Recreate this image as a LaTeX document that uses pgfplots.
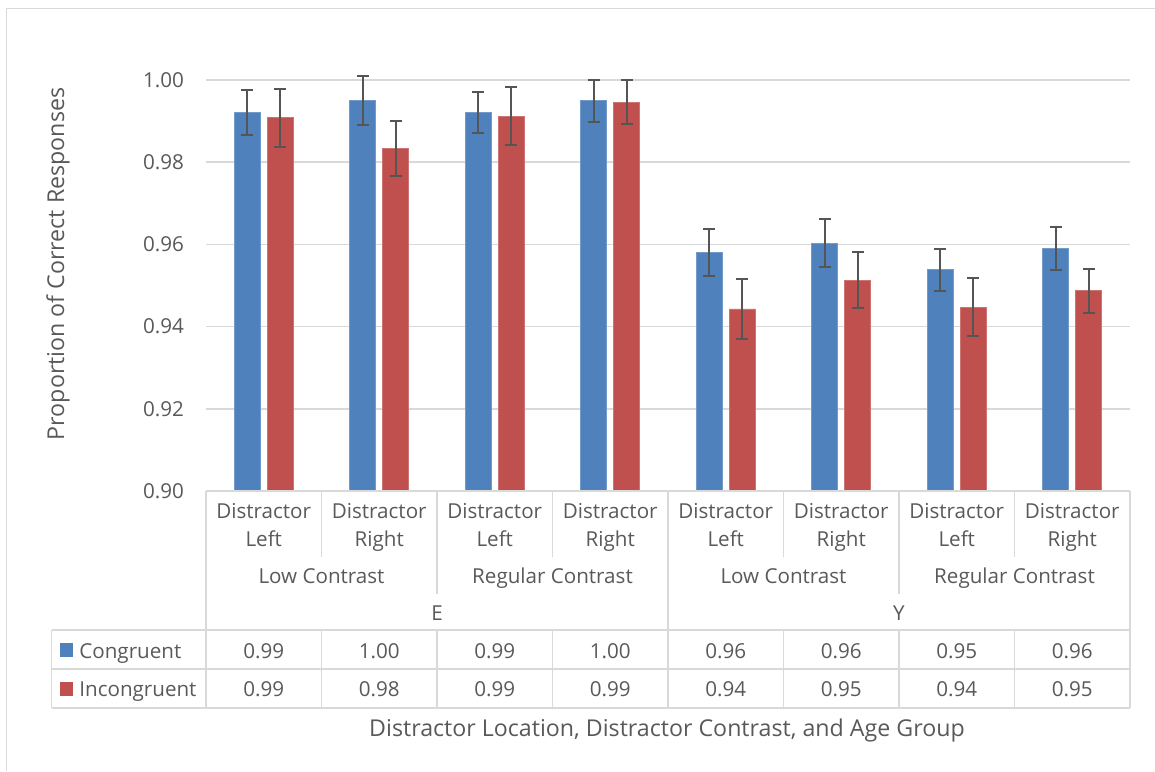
\documentclass[border=0pt]{standalone}
\usepackage{pgfplots}
\pgfplotsset{compat=1.18}
\usepackage{pgfplotstable}
\usepackage{fontspec}
\setmainfont{Open Sans}
\definecolor{cblue}{HTML}{4F81BD}
\definecolor{cred}{HTML}{C0504D}
\definecolor{tgray}{HTML}{595959}
\definecolor{lgray}{HTML}{D9D9D9}
\definecolor{egray}{HTML}{555555}

\pgfplotstableread{
x y e
0 0.9921 0.0055
1 0.9950 0.0059
2 0.9921 0.0050
3 0.9950 0.0051
4 0.9581 0.0057
5 0.9603 0.0059
6 0.9538 0.0051
7 0.9590 0.0053
}\congr
\pgfplotstableread{
x y e
0 0.9908 0.0070
1 0.9833 0.0067
2 0.9912 0.0070
3 0.9946 0.0053
4 0.9443 0.0072
5 0.9513 0.0068
6 0.9447 0.0071
7 0.9487 0.0054
}\incongr

\begin{document}
\begin{tikzpicture}[font=\fontsize{10.3}{12}\selectfont, text=tgray]
\path[use as bounding box] (0pt,0pt) rectangle (577.5pt,-385.5pt);
\begin{axis}[
  at={(103pt,-245.5pt)}, anchor=south west,
  scale only axis, width=462pt, height=205.5pt,
  xmin=-0.5, xmax=7.5, ymin=0.90, ymax=1.00,
  clip=false,
  axis line style={draw=none},
  xtick=\empty,
  ytick={0.90,0.92,0.94,0.96,0.98,1.00},
  major tick length=0pt,
  ymajorgrids, grid style={lgray, line width=0.75pt},
  yticklabel style={xshift=-7.5pt, text=tgray,
    /pgf/number format/.cd, fixed, fixed zerofill, precision=2, assume math mode=true},
  ybar=3.5pt, bar width=13pt,
]
\addplot[fill=cblue, draw=cblue!80!white, line width=0.4pt,
  error bars/.cd, y dir=both, y explicit,
  error bar style={egray, line width=1pt},
  error mark options={rotate=90, mark size=3pt, line width=1pt, egray}]
  table[x=x, y=y, y error=e]{\congr};
\addplot[fill=cred, draw=cred!80!white, line width=0.4pt,
  error bars/.cd, y dir=both, y explicit,
  error bar style={egray, line width=1pt},
  error mark options={rotate=90, mark size=3pt, line width=1pt, egray}]
  table[x=x, y=y, y error=e]{\incongr};
\end{axis}
\begin{scope}[x=0.5pt, y=-0.5pt, every node/.style={inner sep=0pt, anchor=base, text=tgray}]
  % outer chart border
  \draw[lgray, line width=0.75pt] (6.5,771) -- (6.5,8.5) -- (1155,8.5);
  % category table
  \draw[lgray, line width=0.75pt] (206,491) -- (1130,491);
  \draw[lgray, line width=0.75pt] (206,491) -- (206,708);
  \draw[lgray, line width=0.75pt] (1130,491) -- (1130,708);
  \foreach \xx in {321.5,552.5,783.5,1014.5} {
    \draw[lgray, line width=0.75pt] (\xx,491) -- (\xx,557);
    \draw[lgray, line width=0.75pt] (\xx,630) -- (\xx,708);
  }
  \foreach \xx in {437,899} {
    \draw[lgray, line width=0.75pt] (\xx,491) -- (\xx,594);
    \draw[lgray, line width=0.75pt] (\xx,630) -- (\xx,708);
  }
  \draw[lgray, line width=0.75pt] (668,491) -- (668,708);
  \foreach \yy in {630,669,708}
    \draw[lgray, line width=0.75pt] (51.5,\yy) -- (1130,\yy);
  \draw[lgray, line width=0.75pt] (51.5,630) -- (51.5,708);
  % level 1 labels
  \foreach \xx/\lab in {263.75/Left,379.25/Right,494.75/Left,610.25/Right,725.75/Left,841.25/Right,956.75/Left,1072.25/Right} {
    \node at (\xx,518) {Distractor};
    \node at (\xx,546.5) {\lab};
  }
  % level 2
  \foreach \xx/\lab in {321.5/Low Contrast,552.5/Regular Contrast,783.5/Low Contrast,1014.5/Regular Contrast}
    \node at (\xx,583.3) {\lab};
  % level 3
  \node at (437,620) {E};
  \node at (899,620) {Y};
  % data table
  \fill[cblue] (60,643.3) rectangle (73.3,656.7);
  \fill[cred] (60,682.3) rectangle (73.3,695.7);
  \node[anchor=base west] at (79,658.3) {Congruent};
  \node[anchor=base west] at (79,696.7) {Incongruent};
  \foreach \xx/\v in {263.75/0.99,379.25/1.00,494.75/0.99,610.25/1.00,725.75/0.96,841.25/0.96,956.75/0.95,1072.25/0.96}
    \node at (\xx,658.3) {\v};
  \foreach \xx/\v in {263.75/0.99,379.25/0.98,494.75/0.99,610.25/0.99,725.75/0.94,841.25/0.95,956.75/0.94,1072.25/0.95}
    \node at (\xx,696.7) {\v};
  % axis titles
  \node[font=\fontsize{11.6}{14}\selectfont] at (667,736) {Distractor Location, Distractor Contrast, and Age Group};
  \node[font=\fontsize{11.6}{14}\selectfont, rotate=90] at (64,264) {Proportion of Correct Responses};
\end{scope}
\end{tikzpicture}
\end{document}
